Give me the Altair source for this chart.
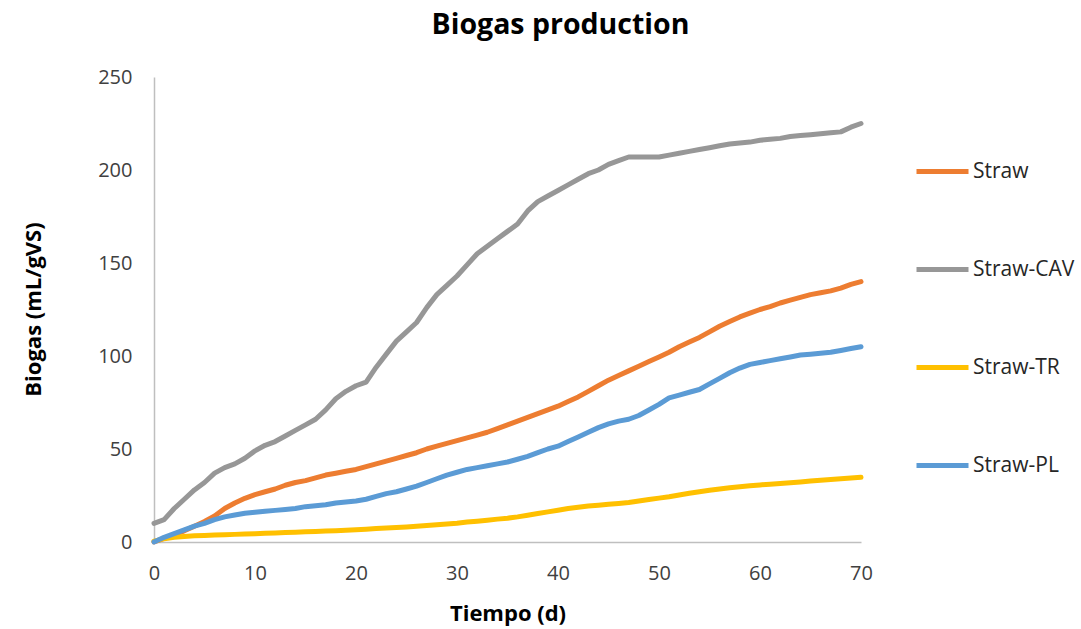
import altair as alt
import pandas as pd

# Cumulative biogas yield (mL/gVS), one reading per day
days = list(range(0, 71))

straw = [0, 2, 4, 6, 8.5, 11, 14, 18, 21, 23.5, 25.5, 27, 28.5, 30.5, 32, 33,
         34.5, 36, 37, 38, 39, 40.5, 42, 43.5, 45, 46.5, 48, 50, 51.5, 53, 54.5,
         56, 57.5, 59, 61, 63, 65, 67, 69, 71, 73, 75.5, 78, 81, 84, 87, 89.5,
         92, 94.5, 97, 99.5, 102, 105, 107.5, 110, 113, 116, 118.5, 121, 123,
         125, 126.5, 128.5, 130, 131.5, 133, 134, 135, 136.5, 138.5, 140]

straw_cav = [10, 12, 18, 23, 28, 32, 37, 40, 42, 45, 49, 52, 54, 57, 60, 63,
             66, 71, 77, 81, 84, 86, 94, 101, 108, 113, 118, 126, 133, 138, 143,
             149, 155, 159, 163, 167, 171, 178, 183, 186, 189, 192, 195, 198,
             200, 203, 205, 207, 207, 207, 207, 208, 209, 210, 211, 212, 213,
             214, 214.5, 215, 216, 216.5, 217, 218, 218.5, 219, 219.5, 220,
             220.5, 223, 225]

straw_tr = [0.5, 1.8, 2.6, 3, 3.3, 3.5, 3.7, 3.9, 4.1, 4.3, 4.5, 4.7, 4.9, 5.1,
            5.3, 5.5, 5.7, 5.9, 6.1, 6.3, 6.6, 6.9, 7.2, 7.5, 7.8, 8.1, 8.5,
            8.9, 9.3, 9.7, 10.1, 10.7, 11.2, 11.7, 12.3, 12.8, 13.5, 14.4, 15.3,
            16.2, 17.1, 18, 18.7, 19.3, 19.8, 20.3, 20.7, 21.2, 22, 22.8, 23.6,
            24.3, 25.3, 26.2, 27, 27.8, 28.5, 29.2, 29.7, 30.2, 30.7, 31.1, 31.5,
            31.9, 32.3, 32.8, 33.2, 33.6, 34, 34.4, 34.8]

straw_pl = [0, 2.5, 4.5, 6.5, 8.5, 10, 12, 13.5, 14.5, 15.5, 16, 16.5, 17, 17.5,
            18, 19, 19.5, 20, 21, 21.5, 22, 23, 24.5, 26, 27, 28.5, 30, 32, 34,
            36, 37.5, 39, 40, 41, 42, 43, 44.5, 46, 48, 50, 51.5, 54, 56.5, 59,
            61.5, 63.5, 65, 66, 68, 71, 74, 77.5, 79, 80.5, 82, 85, 88, 91, 93.5,
            95.5, 96.5, 97.5, 98.5, 99.5, 100.5, 101, 101.5, 102, 103, 104, 105]

series_names = ["Straw", "Straw-CAV", "Straw-TR", "Straw-PL"]
series_colors = ["#ED7D31", "#979797", "#FFC000", "#5B9BD5"]

rows = []
for name, values in zip(series_names, [straw, straw_cav, straw_tr, straw_pl]):
    for d, v in zip(days, values):
        rows.append({"Tiempo": d, "Biogas": v, "Serie": name})
df = pd.DataFrame(rows)

FONT = "Open Sans"

chart = (
    alt.Chart(df)
    .mark_line(strokeWidth=5, strokeJoin="round", strokeCap="round")
    .encode(
        x=alt.X(
            "Tiempo:Q",
            scale=alt.Scale(domain=[0, 70], nice=False),
            axis=alt.Axis(
                title="Tiempo (d)",
                values=[0, 10, 20, 30, 40, 50, 60, 70],
                grid=False,
                ticks=False,
                labelFlush=False,
                labelPadding=21,
                titlePadding=20,
            ),
        ),
        y=alt.Y(
            "Biogas:Q",
            scale=alt.Scale(domain=[0, 250], nice=False),
            axis=alt.Axis(
                title="Biogas (mL/gVS)",
                values=[0, 50, 100, 150, 200, 250],
                grid=False,
                ticks=False,
                labelFlush=False,
                labelPadding=22,
                titleX=-121,
                titleY=232,
                titleAlign="center",
                titleBaseline="middle",
            ),
        ),
        color=alt.Color(
            "Serie:N",
            scale=alt.Scale(domain=series_names, range=series_colors),
            sort=series_names,
            legend=alt.Legend(
                title=None,
                orient="none",
                legendX=760,
                legendY=66,
                symbolType="stroke",
                symbolSize=2704,
                symbolStrokeWidth=5,
                labelFontSize=21,
                labelFont=FONT,
                labelColor="#262626",
                labelOffset=2,
                rowPadding=59,
            ),
        ),
        order=alt.Order("Tiempo:Q"),
    )
    .properties(
        width=707,
        height=465,
        title=alt.TitleParams(
            "Biogas production",
            font=FONT,
            fontSize=28.5,
            fontWeight="bold",
            color="#000000",
            anchor="middle",
            dx=53,
            offset=28,
        ),
        autosize=alt.AutoSizeParams(type="none"),
        padding={"left": 154, "top": 77, "right": 220, "bottom": 87},
        background="white",
    )
    .configure_view(stroke=None)
    .configure_axis(
        domainColor="#BFBFBF",
        domainWidth=1.5,
        labelFont=FONT,
        labelFontSize=20,
        labelColor="#404040",
        titleFont=FONT,
        titleFontSize=22,
        titleFontWeight="bold",
        titleColor="#000000",
    )
)

chart.save("out.html", embed_options={"renderer": "svg", "actions": False})
